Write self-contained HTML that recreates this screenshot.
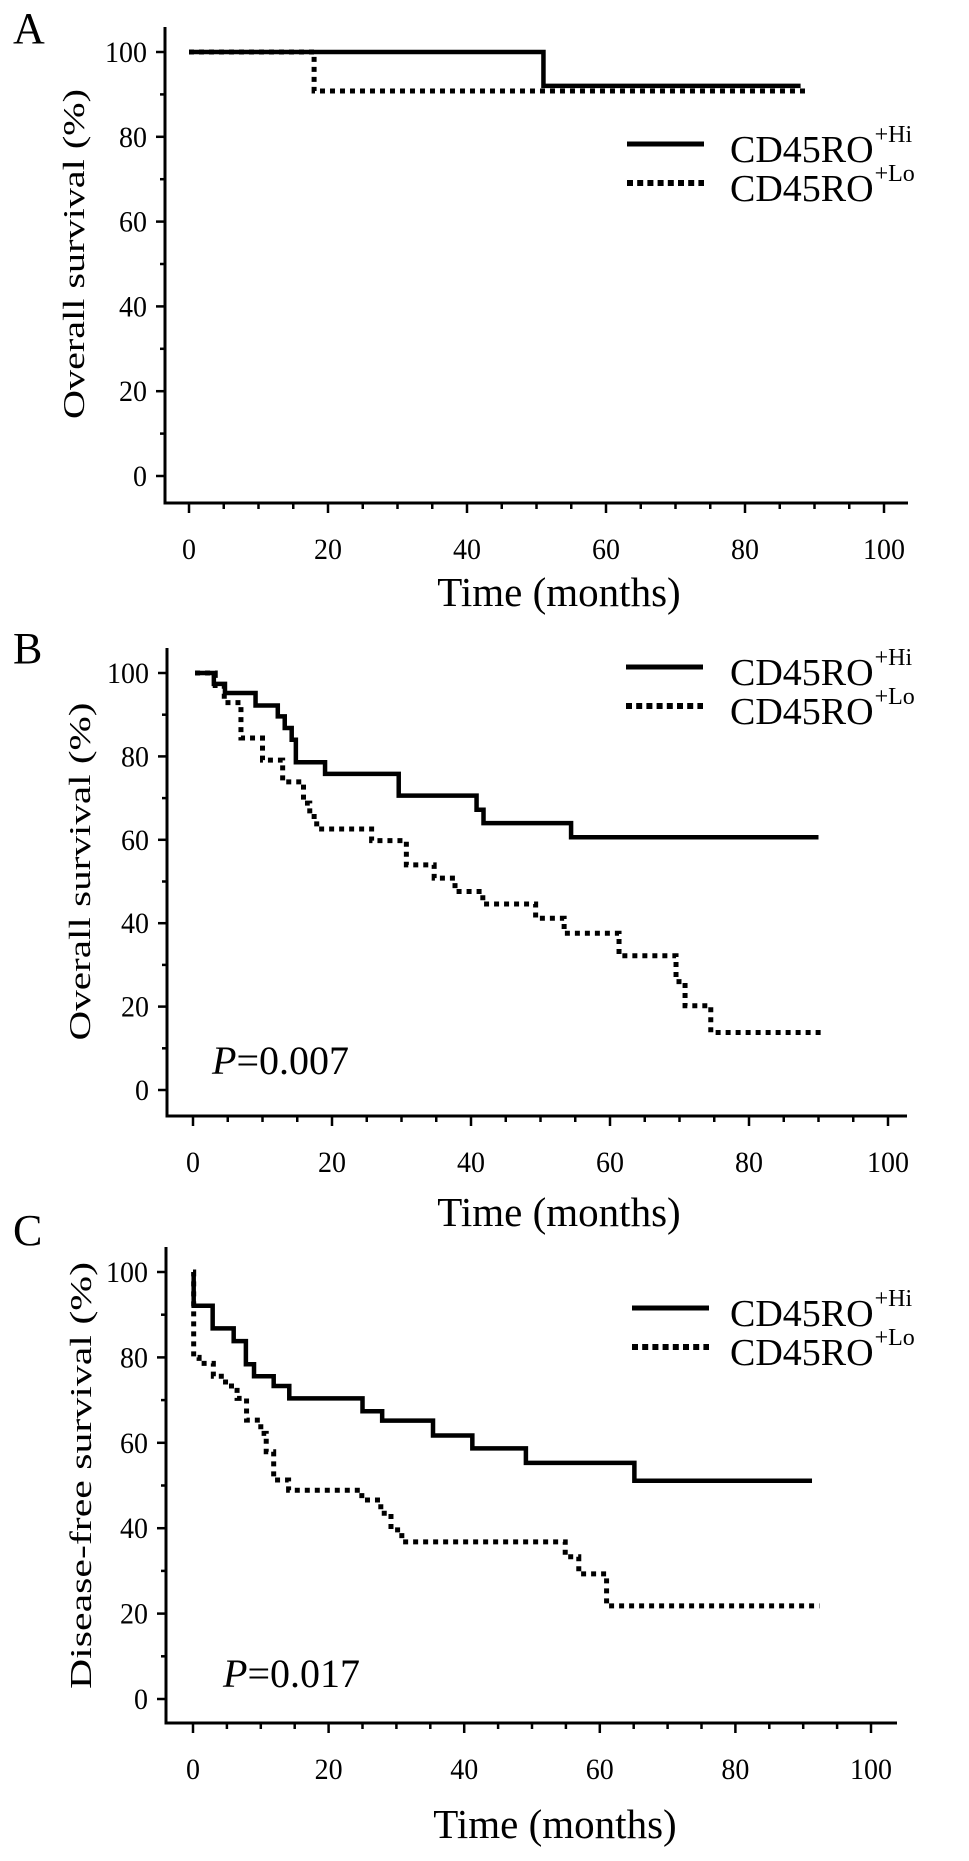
<!DOCTYPE html>
<html><head><meta charset="utf-8"><style>
html,body{margin:0;padding:0;background:#fff;}
svg{display:block;font-family:"Liberation Serif",serif;}
</style></head><body>
<svg id="chart" width="969" height="1861" viewBox="0 0 969 1861" xmlns="http://www.w3.org/2000/svg"></svg>
<script>
// ---- data ----
const xTicks = [0,20,40,60,80,100];
const yTicks = [0,20,40,60,80,100];
const panelLetters = ["A","B","C"];
const yTitles = ["Overall survival (%)","Overall survival (%)","Disease-free survival (%)"];
const xTitle = "Time (months)";
const seriesNames = ["CD45RO","CD45RO"];
const seriesSup = ["+Hi","+Lo"];
const pValues = [null,"=0.007","=0.017"];
// panel A
const aHiT = [0,51,88];
const aHiS = [100,92,92];
const aLoT = [0,18,89];
const aLoS = [100,90.8,90.8];
// panel B
const bHiT = [0.3,3.0,4.6,9.0,12.2,13.2,14.2,14.8,19.0,29.6,40.8,41.8,54.4,90];
const bHiS = [100,97.4,95.2,92.2,89.6,86.8,84.0,78.6,75.8,70.6,67.2,64.0,60.6,60.6];
const bLoT = [0.3,3.2,4.5,6.9,10.0,12.9,15.9,16.8,17.8,25.7,30.7,34.7,37.7,41.7,49.3,53.4,61.3,69.5,70.8,74.5,91];
const bLoS = [100,97,92.9,84.4,79.1,73.9,68.8,65.6,62.6,59.8,54.0,50.8,47.6,44.6,41.2,37.6,32.2,26,20.2,13.8,13.8];
// panel C
const cHiT = [0,0.1,2.9,6.0,7.8,9.0,11.9,14.2,25.0,27.9,35.4,41.2,49.1,65.1,91.3];
const cHiS = [100,92.1,86.8,83.8,78.4,75.6,73.3,70.4,67.4,65.2,61.7,58.7,55.3,51.1,51.1];
const cLoT = [0,0.1,0.9,3.0,4.8,6.5,7.9,10.0,10.8,11.9,14.1,24.9,27.7,29.2,30.8,54.9,56.9,61.0,92.4];
const cLoS = [100,80,78.6,75.6,73.3,70.4,65.3,62.2,57.9,51.3,48.9,46.6,43.5,39.6,36.8,33.3,29.3,21.8,21.8];

const tSeries = [[aHiT,aLoT],[bHiT,bLoT],[cHiT,cLoT]];
const sSeries = [[aHiS,aLoS],[bHiS,bLoS],[cHiS,cLoS]];

// ---- layout (geometry, not data) ----
const panels = [
 {ax:165, axTop:27, x0:189, x100:884, xEnd:908, y0:476, y100:52, xAxisY:503, letterY:43, legY:144, legX:627, tickLabY:559, titleY:606, titleX:559, yTitleX:73, yTitleLen:330, pY:null},
 {ax:167, axTop:648, x0:193, x100:888, xEnd:907, y0:1090, y100:673, xAxisY:1116, letterY:663, legY:667, legX:626, tickLabY:1172, titleY:1226, titleX:559, yTitleX:79, yTitleLen:338, pY:1074, pX:212},
 {ax:166, axTop:1247, x0:193, x100:871, xEnd:897, y0:1699, y100:1272, xAxisY:1723, letterY:1245, legY:1308, legX:632, tickLabY:1779, titleY:1838, titleX:555, yTitleX:80, yTitleLen:427, pY:1687, pX:223}
];

const svg = document.getElementById('chart');
const NS = 'http://www.w3.org/2000/svg';
function mk(tag, attrs, parent){ const e=document.createElementNS(NS,tag); for(const k in attrs) e.setAttribute(k,attrs[k]); (parent||svg).appendChild(e); return e; }

panels.forEach((p,i)=>{
  const g = mk('g',{});
  
  
  const X = t => p.x0 + (p.x100-p.x0)*t/100;
  const Y = s => p.y0 + (p.y100-p.y0)*s/100;

  const L = mk('text',{x:13,y:p.letterY,'font-size':44},g); L.textContent = panelLetters[i];
  
  

  const ya = mk('line',{x1:p.ax,y1:p.axTop,x2:p.ax,y2:p.xAxisY+1.5,stroke:'#000','stroke-width':3},g);
  
  
  const xa = mk('line',{x1:p.ax-1.5,y1:p.xAxisY,x2:p.xEnd,y2:p.xAxisY,stroke:'#000','stroke-width':3},g);
  
  

  for(let v=0; v<=100; v+=10){
    const major = v%20===0;
    mk('line',{x1:p.ax-(major?9:5),y1:Y(v),x2:p.ax,y2:Y(v),stroke:'#000','stroke-width':2.5},g);
  }
  yTicks.forEach(v=>{
    const s = String(v);
    const t = mk('text',{x:p.ax-18,y:Y(v)+10,'font-size':30,'text-anchor':'end',textLength:14*s.length,lengthAdjust:'spacingAndGlyphs'},g);
    t.textContent = s;
    
    
  });
  for(let v=0; v<=100; v+=5){
    const major = v%20===0;
    mk('line',{x1:X(v),y1:p.xAxisY,x2:X(v),y2:p.xAxisY+(major?10:6),stroke:'#000','stroke-width':2.5},g);
  }
  xTicks.forEach(v=>{
    const s = String(v);
    const t = mk('text',{x:X(v),y:p.tickLabY,'font-size':30,'text-anchor':'middle',textLength:14*s.length,lengthAdjust:'spacingAndGlyphs'},g);
    t.textContent = s;
    
    
  });
  const xt = mk('text',{x:p.titleX,y:p.titleY,'font-size':41,'text-anchor':'middle'},g);
  xt.textContent = xTitle;
  
  
  const yc = (p.y0+p.y100)/2 - 10;
  const yt = mk('text',{x:p.yTitleX,y:yc,'font-size':31,'text-anchor':'middle',transform:`rotate(-90 ${p.yTitleX} ${yc})`,textLength:p.yTitleLen,lengthAdjust:'spacingAndGlyphs',dy:11},g);
  yt.textContent = yTitles[i];
  
  

  [0,1].forEach(k=>{
    const T = tSeries[i][k], S = sSeries[i][k];
    let d = `M${X(T[0])},${Y(S[0])}`;
    for(let j=1;j<T.length;j++){ d += ` H${X(T[j])} V${Y(S[j])}`; }
    const path = mk('path',{d:d,fill:'none',stroke:'#000','stroke-width':k===0?4.5:5,'stroke-dasharray':k===0?'none':'5 5'},g);
    
    
  });

  [0,1].forEach(k=>{
    const ly = p.legY + k*39;
    const ll = mk('line',{x1:p.legX,y1:ly,x2:p.legX+77,y2:ly,stroke:'#000','stroke-width':k===0?5:6,'stroke-dasharray':k===0?'none':'6 4.2'},g);
    
    
    const tx = mk('text',{x:730,y:ly+18,'font-size':38},g);
    
    
    tx.appendChild(document.createTextNode(seriesNames[k]));
    const sp = mk('tspan',{'font-size':24,dy:-20,dx:1},tx);
    sp.textContent = seriesSup[k];
  });

  if(pValues[i]){
    const pt = mk('text',{x:p.pX,y:p.pY,'font-size':40},g);
    
    
    const it = mk('tspan',{'font-style':'italic'},pt); it.textContent='P';
    pt.appendChild(document.createTextNode(pValues[i]));
  }
});
</script>
</body></html>
